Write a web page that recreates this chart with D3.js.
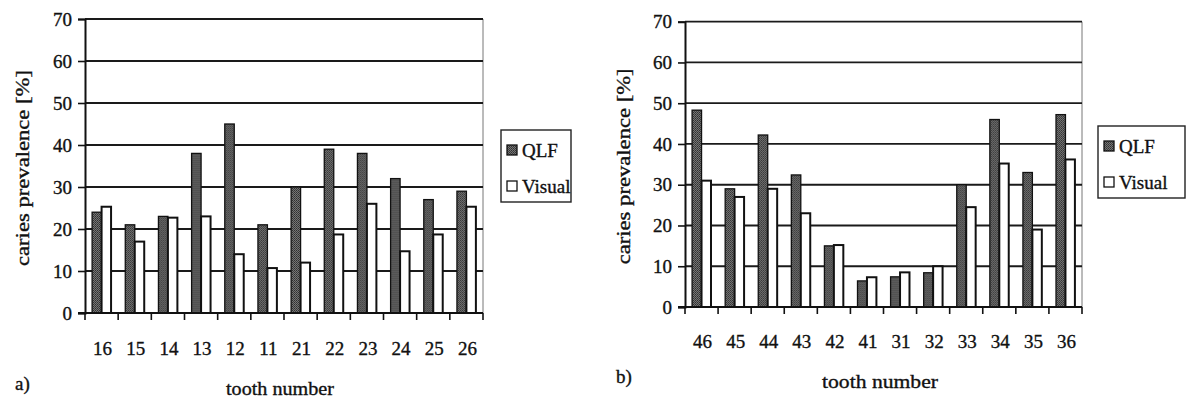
<!DOCTYPE html>
<html>
<head>
<meta charset="utf-8">
<script src="https://cdn.jsdelivr.net/npm/d3@7/dist/d3.min.js"></script>
<style>
  body { margin: 0; background: #fff; }
  svg { display: block; }
  text { font-family: "Liberation Serif", "Times New Roman", serif; fill: #111; stroke: #111; stroke-width: 0.35px; }
</style>
</head>
<body>
<svg id="chart" width="1191" height="401"></svg>
<script>
// chart a) - upper teeth
var teethA = ['16', '15', '14', '13', '12', '11', '21', '22', '23', '24', '25', '26'];
var qlfA = [24, 21, 23, 38, 45, 21, 30, 39, 38, 32, 27, 29];
var visualA = [25.3, 17, 22.7, 23, 14, 10.7, 12, 18.7, 26, 14.7, 18.7, 25.3];

// chart b) - lower teeth
var teethB = ['46', '45', '44', '43', '42', '41', '31', '32', '33', '34', '35', '36'];
var qlfB = [48.3, 29, 42.2, 32.4, 15, 6.4, 7.4, 8.4, 30, 46, 33, 47.2];
var visualB = [31, 27, 29, 23, 15.2, 7.3, 8.5, 10, 24.5, 35.2, 19, 36.2];

var series = ['QLF', 'Visual'];
var yTicks = [0, 10, 20, 30, 40, 50, 60, 70];

var svg = d3.select('#chart');

// dithered grey fill like the scanned print
var defs = svg.append('defs');
var pat = defs.append('pattern')
    .attr('id', 'stipple')
    .attr('width', 2)
    .attr('height', 2)
    .attr('patternUnits', 'userSpaceOnUse');
pat.append('rect').attr('width', 2).attr('height', 2).attr('fill', '#757575');
pat.append('rect').attr('width', 1).attr('height', 1).attr('fill', '#303030');
pat.append('rect').attr('x', 1).attr('y', 1).attr('width', 1).attr('height', 1).attr('fill', '#404040');

function drawChart(opts) {
    var g = svg.append('g').attr('class', 'panel');

    var x = d3.scaleBand()
        .domain(opts.teeth)
        .range([opts.left, opts.right])
        .padding(0);

    var xs = d3.scaleBand()
        .domain(series)
        .range([0, x.bandwidth()])
        .paddingInner(0)
        .paddingOuter(0.75);

    var y = d3.scaleLinear()
        .domain([0, 70])
        .range([opts.bottom, opts.top]);

    // plot frame on the right
    g.append('line')
        .attr('x1', opts.right).attr('x2', opts.right)
        .attr('y1', opts.top).attr('y2', opts.bottom)
        .attr('stroke', '#777')
        .attr('stroke-width', 1);

    // grid lines
    g.selectAll('.grid')
        .data(yTicks.slice(1))
        .enter().append('line')
        .attr('class', 'grid')
        .attr('x1', opts.left).attr('x2', opts.right)
        .attr('y1', function (d) { return y(d); })
        .attr('y2', function (d) { return y(d); })
        .attr('stroke', '#1a1a1a')
        .attr('stroke-width', 1.8);

    var rows = opts.teeth.map(function (t, i) {
        return { tooth: t, QLF: opts.qlf[i], Visual: opts.visual[i] };
    });

    var group = g.selectAll('.tooth')
        .data(rows)
        .enter().append('g')
        .attr('class', 'tooth')
        .attr('transform', function (d) { return 'translate(' + x(d.tooth) + ',0)'; });

    group.selectAll('rect')
        .data(function (d) {
            return series.map(function (s) { return { key: s, value: d[s] }; });
        })
        .enter().append('rect')
        .attr('x', function (d) { return xs(d.key); })
        .attr('width', xs.bandwidth())
        .attr('y', function (d) { return y(d.value); })
        .attr('height', function (d) { return y(0) - y(d.value); })
        .attr('fill', function (d) { return d.key == 'QLF' ? 'url(#stipple)' : '#fff'; })
        .attr('stroke', '#111')
        .attr('stroke-width', function (d) { return d.key == 'QLF' ? 1.3 : 2; });

    // y axis
    var yAxis = d3.axisLeft(y)
        .tickValues(yTicks)
        .tickSize(7)
        .tickPadding(6)
        .tickFormat(d3.format('d'));

    var ya = g.append('g')
        .attr('transform', 'translate(' + opts.left + ',0)')
        .call(yAxis);
    ya.select('.domain').attr('stroke', '#111').attr('stroke-width', 2);
    ya.selectAll('.tick line').attr('stroke', '#111').attr('stroke-width', 1.6);
    ya.selectAll('.tick text')
        .style('font-size', '19px')
        .attr('fill', '#111');

    // x axis: ticks sit on category boundaries
    var xa = g.append('g')
        .attr('transform', 'translate(0,' + opts.bottom + ')');
    xa.append('line')
        .attr('x1', opts.left - 7).attr('x2', opts.right)
        .attr('stroke', '#111')
        .attr('stroke-width', 2);
    xa.selectAll('.xtick')
        .data(opts.teeth.concat(['end']))
        .enter().append('line')
        .attr('class', 'xtick')
        .attr('x1', function (d, i) { return opts.left + i * x.step(); })
        .attr('x2', function (d, i) { return opts.left + i * x.step(); })
        .attr('y1', 0).attr('y2', 7)
        .attr('stroke', '#111')
        .attr('stroke-width', 1.6);
    xa.selectAll('.xlabel')
        .data(opts.teeth)
        .enter().append('text')
        .attr('class', 'xlabel')
        .attr('x', function (d) { return x(d) + x.bandwidth() / 2 + 1; })
        .attr('y', opts.labelY - opts.bottom)
        .attr('text-anchor', 'middle')
        .attr('dominant-baseline', 'central')
        .style('font-size', '19px')
        .text(function (d) { return d; });

    // axis titles
    g.append('text')
        .attr('transform', 'translate(' + opts.yTitleX + ',' + ((opts.top + opts.bottom) / 2 + 2) + ') rotate(-90)')
        .attr('text-anchor', 'middle')
        .attr('dominant-baseline', 'central')
        .attr('textLength', 196)
        .attr('lengthAdjust', 'spacingAndGlyphs')
        .style('font-size', '19px')
        .text('caries prevalence [%]');

    g.append('text')
        .attr('x', opts.xTitleX)
        .attr('y', opts.xTitleY)
        .attr('text-anchor', 'middle')
        .attr('dominant-baseline', 'central')
        .attr('textLength', opts.xTitleW)
        .attr('lengthAdjust', 'spacingAndGlyphs')
        .style('font-size', '19px')
        .text('tooth number');

    g.append('text')
        .attr('x', opts.tagX)
        .attr('y', opts.tagY)
        .attr('dominant-baseline', 'central')
        .style('font-size', '19px')
        .text(opts.tag);

    // legend
    var lg = g.append('g')
        .attr('class', 'legend')
        .attr('transform', 'translate(' + opts.legendX + ',' + opts.legendY + ')');
    lg.append('rect')
        .attr('width', opts.legendW)
        .attr('height', 72)
        .attr('fill', '#fff')
        .attr('stroke', '#222')
        .attr('stroke-width', 1.4);

    var item = lg.selectAll('.item')
        .data(series)
        .enter().append('g')
        .attr('class', 'item')
        .attr('transform', function (d, i) { return 'translate(6,' + (20 + i * 36) + ')'; });
    item.append('rect')
        .attr('y', -5)
        .attr('width', 10)
        .attr('height', 10)
        .attr('fill', function (d) { return d == 'QLF' ? 'url(#stipple)' : '#fff'; })
        .attr('stroke', '#111')
        .attr('stroke-width', 1.3);
    item.append('text')
        .attr('x', 15)
        .attr('dominant-baseline', 'central')
        .style('font-size', '19px')
        .text(function (d) { return d; });
}

drawChart({
    teeth: teethA, qlf: qlfA, visual: visualA,
    left: 85, right: 483, top: 19, bottom: 313,
    labelY: 348, yTitleX: 22,
    xTitleX: 280, xTitleY: 388, xTitleW: 108,
    tag: 'a)', tagX: 15, tagY: 383,
    legendX: 501, legendY: 130, legendW: 70
});

drawChart({
    teeth: teethB, qlf: qlfB, visual: visualB,
    left: 685, right: 1082, top: 21.7, bottom: 307,
    labelY: 341, yTitleX: 623,
    xTitleX: 880, xTitleY: 381, xTitleW: 116,
    tag: 'b)', tagX: 616, tagY: 376,
    legendX: 1098, legendY: 126, legendW: 87
});
</script>
</body>
</html>
